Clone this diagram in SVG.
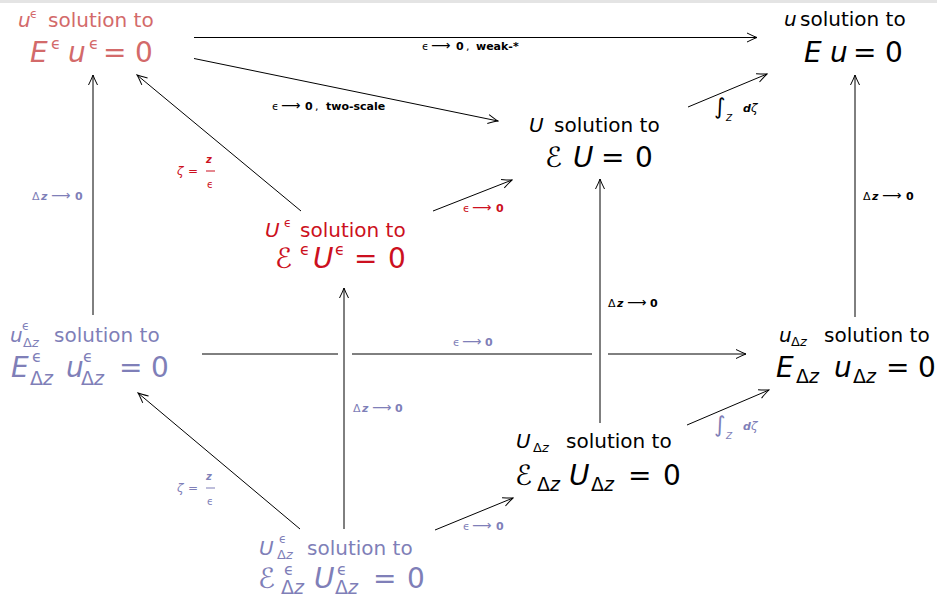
<svg xmlns="http://www.w3.org/2000/svg" width="937" height="598" viewBox="0 0 937 598">
<defs>
<style>
text{font-family:"DejaVu Sans","Liberation Sans",sans-serif;}
.a{font-size:20px}
.b{font-size:28px}
.i{font-style:italic}
.bf{font-weight:bold}
.p1{font-size:12px}
.s1{font-size:13px}
.p2{font-size:16px}
.s2{font-size:19px}
.lb{font-size:11px}
.ar{font-size:13.5px}
.conn path{fill:none;stroke:#000;stroke-width:1}
.pk{fill:#d36a6a}
.rd{fill:#cc1020}
.pu{fill:#7f7fb8}
</style>
<marker id="ah" viewBox="-11 -6 12 12" refX="0" refY="0" markerWidth="12" markerHeight="12" markerUnits="userSpaceOnUse" orient="auto"><path d="M-10,-4.5 Q-3,-1 0,0 Q-3,1 -10,4.5" fill="none" stroke="#000" stroke-width="1"/></marker>
</defs>
<rect width="937" height="598" fill="#fff"/>
<rect width="937" height="3" fill="#e4e4e4"/>

<g class="conn">
<path d="M194,37.5 L757,37.5" marker-end="url(#ah)"/>
<path d="M194,58.5 L498,121" marker-end="url(#ah)"/>
<path d="M688,107 L767,74" marker-end="url(#ah)"/>
<path d="M93,315 L93,75" marker-end="url(#ah)"/>
<path d="M301,211 L137,75" marker-end="url(#ah)"/>
<path d="M433,211 L512,180" marker-end="url(#ah)"/>
<path d="M855,317 L855,75" marker-end="url(#ah)"/>
<path d="M600,423 L600,179" marker-end="url(#ah)"/>
<path d="M344,529 L344,288" marker-end="url(#ah)"/>
<path d="M202,354 L338,354 M352,354 L592,354"/>
<path d="M608,354 L746,354" marker-end="url(#ah)"/>
<path d="M300,529 L138,393" marker-end="url(#ah)"/>
<path d="M435,530 L513,498" marker-end="url(#ah)"/>
<path d="M687,425 L769,390" marker-end="url(#ah)"/>

<text class="lb"><tspan x="422" y="50">ϵ</tspan><tspan class="ar" x="431" y="50">⟶</tspan><tspan class="bf" x="456" y="50">0</tspan><tspan x="466" y="50">,</tspan><tspan class="bf" x="476" y="50">weak-*</tspan></text>
<text class="lb"><tspan x="272" y="110">ϵ</tspan><tspan class="ar" x="281" y="110">⟶</tspan><tspan class="bf" x="305" y="110">0</tspan><tspan x="315" y="110">,</tspan><tspan class="bf" x="326" y="110">two-scale</tspan></text>
<text class="lb rd"><tspan x="463" y="212">ϵ</tspan><tspan class="ar" x="472" y="212">⟶</tspan><tspan class="bf" x="496" y="212">0</tspan></text>
<text class="lb pu"><tspan x="453" y="346">ϵ</tspan><tspan class="ar" x="462" y="346">⟶</tspan><tspan class="bf" x="485" y="346">0</tspan></text>
<text class="lb pu"><tspan x="463" y="530">ϵ</tspan><tspan class="ar" x="472" y="530">⟶</tspan><tspan class="bf" x="496" y="530">0</tspan></text>
<text class="lb pu"><tspan x="32" y="200">Δ</tspan><tspan class="bf i" x="41" y="200">z</tspan><tspan class="ar" x="51" y="200">⟶</tspan><tspan class="bf" x="75" y="200">0</tspan></text>
<text class="lb"><tspan x="863" y="200">Δ</tspan><tspan class="bf i" x="872" y="200">z</tspan><tspan class="ar" x="882" y="200">⟶</tspan><tspan class="bf" x="906" y="200">0</tspan></text>
<text class="lb"><tspan x="608" y="307">Δ</tspan><tspan class="bf i" x="617" y="307">z</tspan><tspan class="ar" x="627" y="307">⟶</tspan><tspan class="bf" x="650" y="307">0</tspan></text>
<text class="lb pu"><tspan x="353" y="412">Δ</tspan><tspan class="bf i" x="362" y="412">z</tspan><tspan class="ar" x="372" y="412">⟶</tspan><tspan class="bf" x="395" y="412">0</tspan></text>
<g class="rd">
<text style="font-size:12px"><tspan class="i" x="177" y="175">ζ</tspan><tspan x="188" y="175">=</tspan></text>
<text style="font-size:10px"><tspan class="bf i" x="206" y="163">z</tspan><tspan x="207" y="188">ϵ</tspan></text>
<rect x="206" y="170.5" width="9" height="1"/>
</g>
<g class="pu">
<text style="font-size:12px"><tspan class="i" x="177" y="492">ζ</tspan><tspan x="188" y="492">=</tspan></text>
<text style="font-size:10px"><tspan class="bf i" x="206" y="480">z</tspan><tspan x="207" y="505">ϵ</tspan></text>
<rect x="206" y="487.5" width="9" height="1"/>
</g>
<text><tspan x="714" y="114" style="font-size:22px">∫</tspan><tspan class="i" x="726" y="121" style="font-size:9px">Z</tspan><tspan class="bf i" x="743" y="112" style="font-size:11px">d</tspan><tspan class="i" x="751" y="112" style="font-size:12px">ζ</tspan></text>
<text class="pu"><tspan x="714" y="432" style="font-size:22px">∫</tspan><tspan class="i" x="726" y="439" style="font-size:9px">Z</tspan><tspan class="bf i" x="743" y="430" style="font-size:11px">d</tspan><tspan class="i" x="751" y="430" style="font-size:12px">ζ</tspan></text>
</g>

<g id="n-ueps" class="pk">
<text class="a"><tspan class="i" x="18" y="27">u</tspan><tspan class="p1" x="30" y="18">ϵ</tspan><tspan x="48" y="27">solution to</tspan></text>
<text class="b"><tspan class="i" x="30" y="62">E</tspan><tspan class="p2" x="51" y="49">ϵ</tspan><tspan class="i" x="68" y="62">u</tspan><tspan class="p2" x="89" y="49">ϵ</tspan><tspan x="103" y="62">=</tspan><tspan x="135" y="62">0</tspan></text>
</g>

<g id="n-u">
<text class="a"><tspan class="i" x="784" y="26">u</tspan><tspan x="800" y="26">solution to</tspan></text>
<text class="b"><tspan class="i" x="804" y="62">E</tspan><tspan class="i" x="830" y="62">u</tspan><tspan x="853" y="62">=</tspan><tspan x="885" y="62">0</tspan></text>
</g>

<g id="n-U">
<text class="a"><tspan class="i" x="529" y="132">U</tspan><tspan x="554" y="132">solution to</tspan></text>
<text class="b"><tspan x="545" y="167">ℰ</tspan><tspan class="i" x="573" y="167">U</tspan><tspan x="601" y="167">=</tspan><tspan x="635" y="167">0</tspan></text>
</g>

<g id="n-Ueps" class="rd">
<text class="a"><tspan class="i" x="265" y="237">U</tspan><tspan class="p1" x="284" y="227">ϵ</tspan><tspan x="300" y="237">solution to</tspan></text>
<text class="b"><tspan x="275" y="268">ℰ</tspan><tspan class="p2" x="300" y="255">ϵ</tspan><tspan class="i" x="313" y="268">U</tspan><tspan class="p2" x="335" y="255">ϵ</tspan><tspan x="354" y="268">=</tspan><tspan x="388" y="268">0</tspan></text>
</g>

<g id="n-uepsdz" class="pu">
<text class="a"><tspan class="i" x="10" y="342">u</tspan><tspan class="p1" x="22" y="330">ϵ</tspan><tspan class="s1" x="23" y="347">Δ</tspan><tspan class="s1 i" x="32" y="347">z</tspan><tspan x="54" y="342">solution to</tspan></text>
<text class="b"><tspan class="i" x="11" y="377">E</tspan><tspan class="p2" x="32" y="362">ϵ</tspan><tspan class="s2" x="30" y="385">Δ</tspan><tspan class="s2 i" x="43" y="385">z</tspan><tspan class="i" x="66" y="377">u</tspan><tspan class="p2" x="83" y="362">ϵ</tspan><tspan class="s2" x="81" y="385">Δ</tspan><tspan class="s2 i" x="94" y="385">z</tspan><tspan x="119" y="377">=</tspan><tspan x="151" y="377">0</tspan></text>
</g>

<g id="n-udz">
<text class="a"><tspan class="i" x="779" y="342">u</tspan><tspan class="s1" x="791" y="346">Δ</tspan><tspan class="s1 i" x="800" y="346">z</tspan><tspan x="824" y="342">solution to</tspan></text>
<text class="b"><tspan class="i" x="776" y="377">E</tspan><tspan class="s2" x="796" y="383">Δ</tspan><tspan class="s2 i" x="809" y="383">z</tspan><tspan class="i" x="834" y="377">u</tspan><tspan class="s2" x="853" y="383">Δ</tspan><tspan class="s2 i" x="866" y="383">z</tspan><tspan x="886" y="377">=</tspan><tspan x="918" y="377">0</tspan></text>
</g>

<g id="n-Udz">
<text class="a"><tspan class="i" x="516" y="448">U</tspan><tspan class="s1" x="533" y="452">Δ</tspan><tspan class="s1 i" x="542" y="452">z</tspan><tspan x="566" y="448">solution to</tspan></text>
<text class="b"><tspan x="515" y="485">ℰ</tspan><tspan class="s2" x="537" y="491">Δ</tspan><tspan class="s2 i" x="550" y="491">z</tspan><tspan class="i" x="569" y="485">U</tspan><tspan class="s2" x="591" y="491">Δ</tspan><tspan class="s2 i" x="604" y="491">z</tspan><tspan x="628" y="485">=</tspan><tspan x="663" y="485">0</tspan></text>
</g>

<g id="n-Uepsdz" class="pu">
<text class="a"><tspan class="i" x="259" y="555">U</tspan><tspan class="p1" x="279" y="543">ϵ</tspan><tspan class="s1" x="277" y="559">Δ</tspan><tspan class="s1 i" x="286" y="559">z</tspan><tspan x="307" y="555">solution to</tspan></text>
<text class="b"><tspan x="258" y="588">ℰ</tspan><tspan class="p2" x="284" y="575">ϵ</tspan><tspan class="s2" x="281" y="594">Δ</tspan><tspan class="s2 i" x="294" y="594">z</tspan><tspan class="i" x="314" y="588">U</tspan><tspan class="p2" x="337" y="575">ϵ</tspan><tspan class="s2" x="335" y="594">Δ</tspan><tspan class="s2 i" x="348" y="594">z</tspan><tspan x="373" y="588">=</tspan><tspan x="407" y="588">0</tspan></text>
</g>
</svg>
